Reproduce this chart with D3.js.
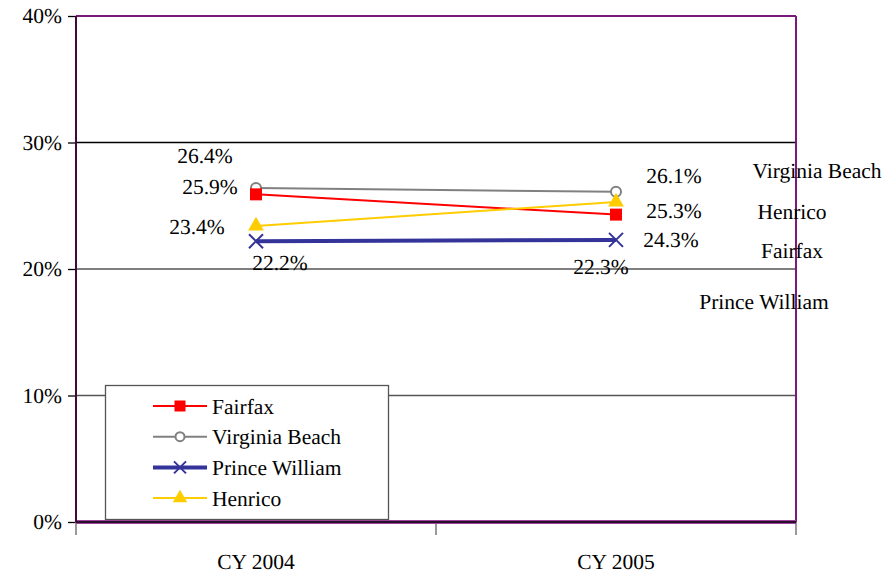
<!DOCTYPE html>
<html><head><meta charset="utf-8">
<script src="https://cdn.jsdelivr.net/npm/d3@7"></script>
<style>body{margin:0;background:#fff}svg{display:block}svg text{font-family:"Times New Roman","Liberation Serif",serif !important;text-rendering:geometricPrecision}</style>
</head><body><svg id="c" width="887" height="578"></svg>
<script>
const categories = ["CY 2004", "CY 2005"];
const seriesNames = ["Fairfax", "Virginia Beach", "Prince William", "Henrico"];
const fairfax = [25.9, 24.3];
const virginiaBeach = [26.4, 26.1];
const princeWilliam = [22.2, 22.3];
const henrico = [23.4, 25.3];
const yTicks = [0, 10, 20, 30, 40];

const FS = "21.5px";
const svg = d3.select("#c");
const L = 76, R = 796, T = 16, B = 522;
const x = d3.scaleBand().domain(categories).range([L, R]);
const y = d3.scaleLinear().domain([0, 40]).range([B, T]);
const cx = c => x(c) + x.bandwidth() / 2;

// gridlines
svg.append("g").selectAll("line").data(yTicks.filter(t => t > 0 && t < 40)).join("line")
  .attr("x1", L).attr("x2", R).attr("y1", d => y(d)).attr("y2", d => y(d))
  .attr("stroke", d => d === 30 ? "#000" : "#555").attr("stroke-width", 1.3);

// y axis
const ya = svg.append("g").attr("transform", `translate(${L},0)`)
  .call(d3.axisLeft(y).tickValues(yTicks).tickFormat(d => d + "%").tickSize(8).tickPadding(6));
ya.select(".domain").remove();
ya.selectAll(".tick line").attr("stroke", "#000").attr("stroke-width", 1.3);

// x axis
const xa = svg.append("g").attr("transform", `translate(0,${B})`)
  .call(d3.axisBottom(x).tickSize(0).tickPadding(32));
xa.select(".domain").remove();
svg.append("g").selectAll("line").data([L, L + x.bandwidth(), R]).join("line")
  .attr("x1", d => d).attr("x2", d => d).attr("y1", B).attr("y2", B + 13)
  .attr("stroke", "#777").attr("stroke-width", 1.5);

// frame
svg.append("line").attr("x1", L).attr("x2", R).attr("y1", T).attr("y2", T).attr("stroke", "#7a1a7a").attr("stroke-width", 2);
svg.append("line").attr("x1", R).attr("x2", R).attr("y1", T).attr("y2", B).attr("stroke", "#7a1a7a").attr("stroke-width", 2);
svg.append("line").attr("x1", L).attr("x2", R).attr("y1", B).attr("y2", B).attr("stroke", "#a040a0").attr("stroke-width", 4);
svg.append("line").attr("x1", L).attr("x2", R).attr("y1", B).attr("y2", B).attr("stroke", "#000").attr("stroke-width", 1.5);
svg.append("line").attr("x1", L).attr("x2", L).attr("y1", T).attr("y2", B).attr("stroke", "#3d0a3d").attr("stroke-width", 2);

const series = [
  {name: "Fairfax", values: fairfax, color: "#ff0000", width: 2, marker: "square"},
  {name: "Virginia Beach", values: virginiaBeach, color: "#808080", width: 2, marker: "circle"},
  {name: "Prince William", values: princeWilliam, color: "#333399", width: 4, marker: "x"},
  {name: "Henrico", values: henrico, color: "#ffcc00", width: 2, marker: "triangle"}
];

function drawMarker(g, type, color, px, py, s) {
  if (type === "square") {
    g.append("rect").attr("x", px - s / 2).attr("y", py - s / 2).attr("width", s).attr("height", s).attr("fill", color);
  } else if (type === "circle") {
    g.append("circle").attr("cx", px).attr("cy", py).attr("r", s / 2 - 1).attr("fill", "#fff").attr("stroke", color).attr("stroke-width", 2);
  } else if (type === "x") {
    const h = s / 2;
    g.append("path").attr("d", `M${px - h},${py - h}L${px + h},${py + h}M${px - h},${py + h}L${px + h},${py - h}`)
      .attr("stroke", color).attr("stroke-width", 2).attr("fill", "none");
  } else if (type === "triangle") {
    g.append("path").attr("d", d3.symbol(d3.symbolTriangle, s * s * 0.75)()).attr("transform", `translate(${px},${py})`).attr("fill", color);
  }
}

const line = d3.line().x((d, i) => cx(categories[i])).y(d => y(d));
[1, 0, 3, 2].forEach(k => {
  const s = series[k];
  const g = svg.append("g");
  g.append("path").attr("d", line(s.values)).attr("fill", "none").attr("stroke", s.color).attr("stroke-width", s.width);
  s.values.forEach((v, i) => drawMarker(g, s.marker, s.color, cx(categories[i]), y(v), s.marker === "x" ? 14 : 12));
});

// data labels
const c0 = cx(categories[0]), c1 = cx(categories[1]);
const labels = [
  {t: virginiaBeach[0] + "%", x: c0 - 51, y: y(virginiaBeach[0]) - 33},
  {t: fairfax[0] + "%", x: c0 - 46, y: y(fairfax[0]) - 8},
  {t: henrico[0] + "%", x: c0 - 59, y: y(henrico[0]) + 0},
  {t: princeWilliam[0] + "%", x: c0 + 24, y: y(princeWilliam[0]) + 21},
  {t: princeWilliam[1] + "%", x: c1 - 15, y: y(princeWilliam[1]) + 27},
  {t: virginiaBeach[1] + "%", x: c1 + 58, y: y(virginiaBeach[1]) - 16},
  {t: henrico[1] + "%", x: c1 + 58, y: y(henrico[1]) + 9},
  {t: fairfax[1] + "%", x: c1 + 55, y: y(fairfax[1]) + 25}
];
svg.append("g").selectAll("text").data(labels).join("text")
  .attr("x", d => d.x).attr("y", d => d.y).attr("dy", "0.35em").attr("text-anchor", "middle")
  .text(d => d.t);

// series name annotations
const names = [
  {t: "Virginia Beach", x: 817, y: 170},
  {t: "Henrico", x: 792, y: 211},
  {t: "Fairfax", x: 792, y: 250},
  {t: "Prince William", x: 764, y: 301}
];
svg.append("g").selectAll("text").data(names).join("text")
  .attr("x", d => d.x).attr("y", d => d.y).attr("dy", "0.35em").attr("text-anchor", "middle")
  .text(d => d.t);

// legend
const lg = svg.append("g");
lg.append("rect").attr("x", 105.5).attr("y", 385.5).attr("width", 283).attr("height", 134)
  .attr("fill", "#fff").attr("stroke", "#555").attr("stroke-width", 1.3);
series.forEach((s, i) => {
  const ly = 406 + i * 30.7;
  lg.append("line").attr("x1", 153).attr("x2", 207).attr("y1", ly).attr("y2", ly).attr("stroke", s.color).attr("stroke-width", s.width);
  drawMarker(lg, s.marker, s.color, 180, ly, s.marker === "x" ? 12 : 11);
  lg.append("text").attr("x", 212).attr("y", ly).attr("dy", "0.35em").text(s.name);
});

svg.selectAll("g").attr("font-family", null).attr("font-size", null);
svg.selectAll("text").attr("fill", "#000").style("font-size", FS);
</script></body></html>
